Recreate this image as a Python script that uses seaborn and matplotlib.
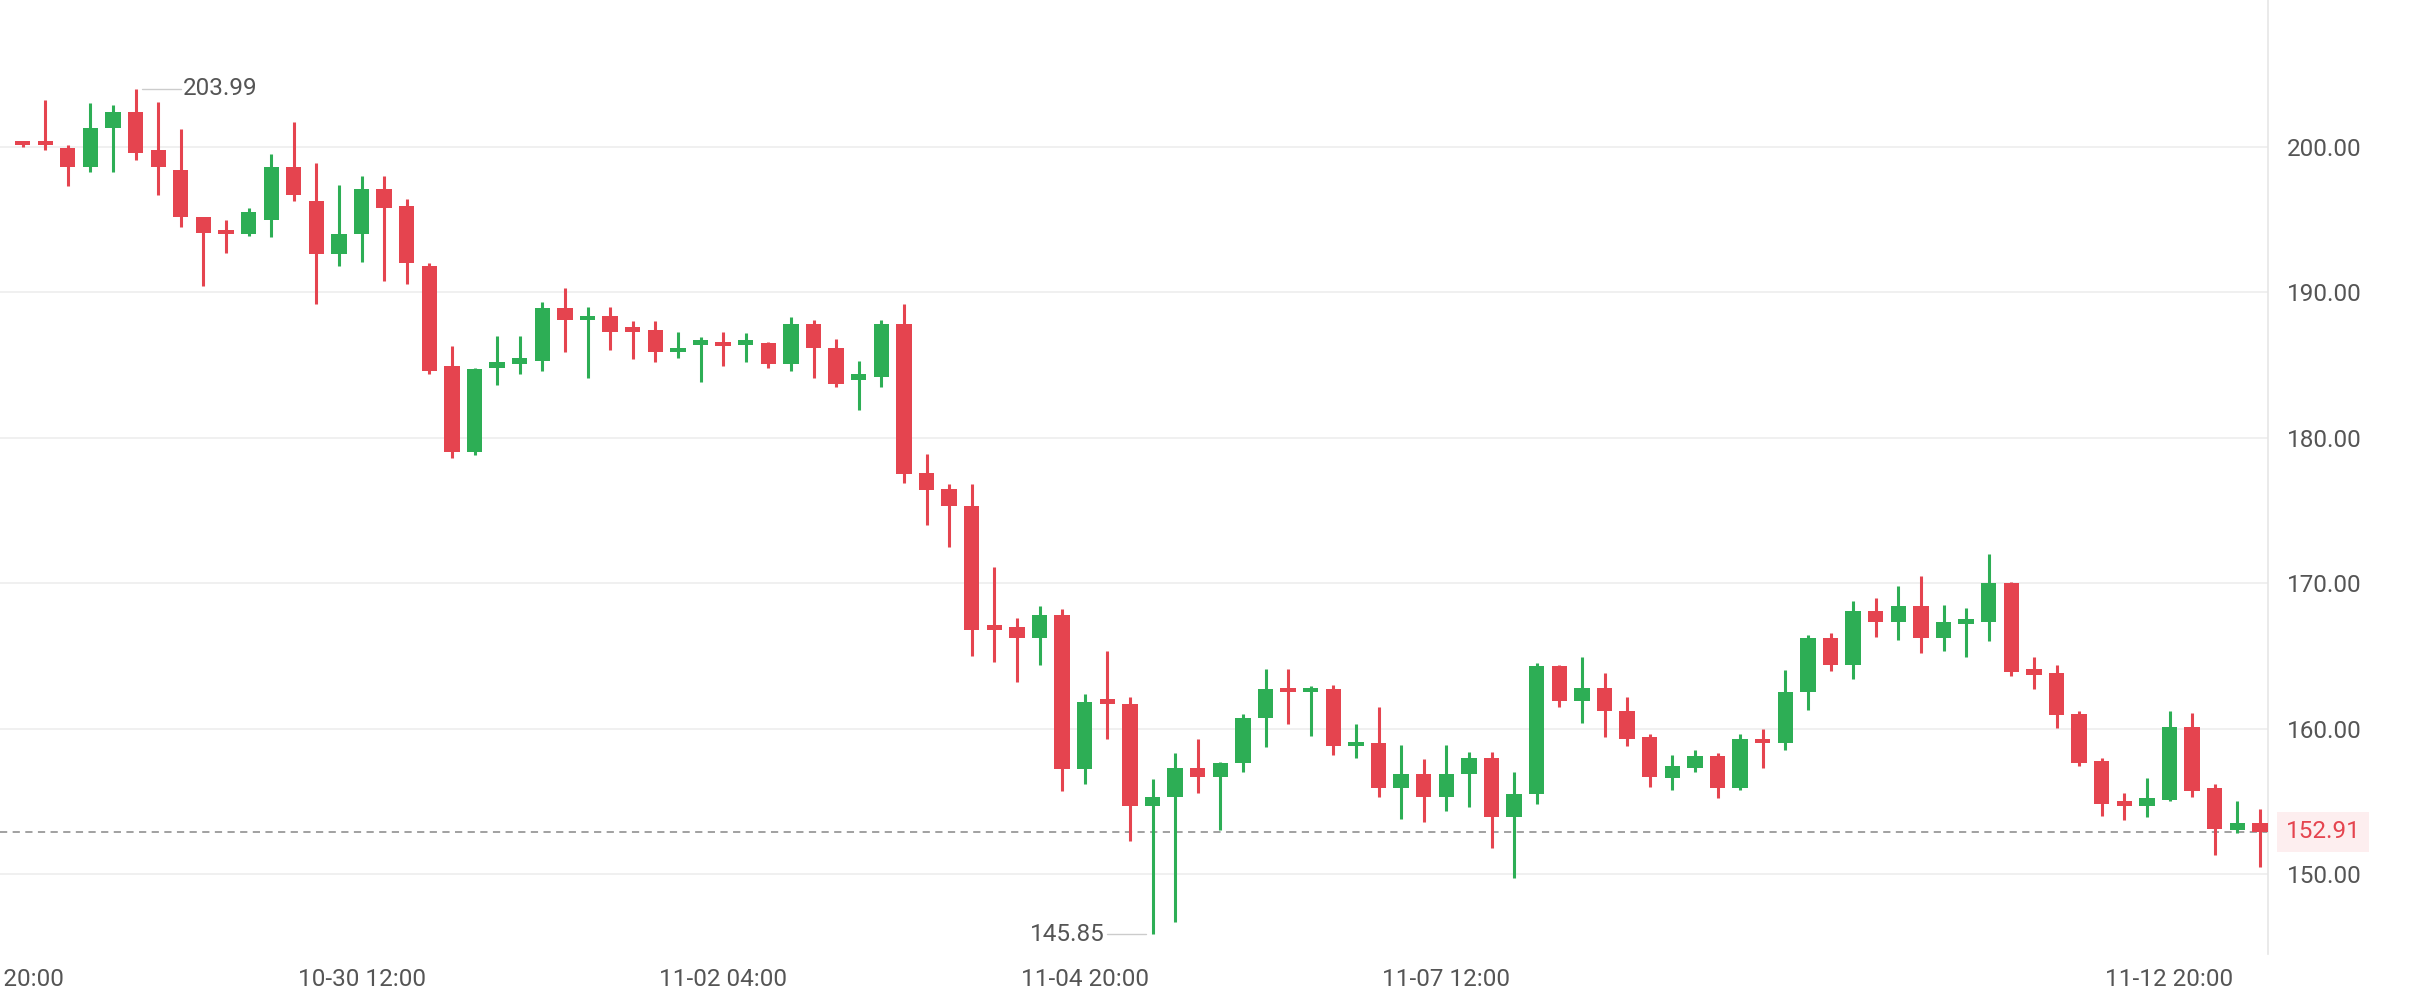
import numpy as np
import pandas as pd
import seaborn as sns
import matplotlib
matplotlib.use("Agg")
import matplotlib.pyplot as plt

opens = [200.2,200.2,199.9,198.6,201.3,202.4,199.8,198.4,195.2,194.3,194.0,195.0,198.6,196.3,192.6,194.0,197.1,195.9,191.8,184.9,
         179.0,184.8,185.1,185.3,188.9,188.1,188.4,187.4,187.4,185.9,186.4,186.5,186.4,186.5,185.1,187.8,186.2,184.0,184.2,187.8,
         177.6,176.5,175.3,166.9,167.0,166.2,167.8,157.2,161.8,161.7,154.7,155.3,157.3,156.7,157.6,160.7,162.7,162.5,162.7,158.8,
         159.0,155.9,156.9,155.3,156.9,158.0,153.9,155.5,164.3,161.9,162.8,161.2,159.4,156.6,157.3,158.1,155.9,159.3,159.0,162.5,
         166.2,164.4,168.1,167.3,168.4,166.2,167.2,167.3,170.0,164.1,163.8,161.0,157.8,154.9,154.7,155.1,160.1,155.9,153.05,153.5]
closes = [200.1,200.1,198.6,201.3,202.4,199.6,198.6,195.2,194.1,194.0,195.5,198.6,196.7,192.6,194.0,197.1,195.8,192.0,184.6,179.0,
          184.7,185.2,185.5,188.9,188.1,188.4,187.3,187.3,185.9,186.2,186.6,186.3,186.5,185.1,187.8,186.2,183.7,184.4,187.8,177.5,
          176.4,175.3,166.8,166.8,166.2,167.8,157.2,161.8,161.7,154.7,155.3,157.3,156.7,157.6,160.7,162.7,162.5,162.6,158.8,159.0,
          155.9,156.9,155.3,156.9,158.0,153.9,155.5,164.3,161.9,162.8,161.2,159.3,156.7,157.4,158.1,155.9,159.3,159.0,162.5,166.2,
          164.4,168.1,167.3,168.4,166.2,167.3,167.4,170.0,163.9,163.7,160.9,157.6,154.8,154.7,155.25,160.1,155.7,153.1,153.5,152.91]
highs = [200.3,203.2,200.1,203.0,202.9,203.99,203.1,201.2,195.2,195.0,195.8,199.5,201.7,198.9,197.4,198.0,198.0,196.4,192.0,186.3,
         184.8,187.0,187.0,189.3,190.3,189.0,189.0,188.0,188.0,187.3,186.9,187.3,187.2,186.6,188.3,188.1,186.8,185.3,188.1,189.2,
         178.9,176.8,176.8,171.1,167.6,168.4,168.2,162.4,165.3,162.2,156.5,158.3,159.3,157.7,161.0,164.1,164.1,162.9,163.0,160.3,
         161.5,158.9,157.9,158.9,158.4,158.4,157.0,164.5,164.4,164.9,163.8,162.2,159.6,158.2,158.5,158.3,159.6,160.0,164.0,166.4,
         166.6,168.8,169.0,169.8,170.5,168.5,168.3,172.0,170.1,164.9,164.4,161.2,158.0,155.6,156.6,161.2,161.1,156.2,155.0,154.5]
lows = [200.0,199.8,197.3,198.3,198.3,199.1,196.7,194.5,190.4,192.7,193.9,193.8,196.3,189.2,191.8,192.1,190.8,190.6,184.4,178.6,
        178.8,183.6,184.4,184.6,185.9,184.1,186.0,185.4,185.2,185.5,183.8,184.9,185.2,184.8,184.6,184.1,183.5,181.9,183.5,176.9,
        174.0,172.5,165.0,164.6,163.2,164.4,155.7,156.2,159.3,152.3,145.85,146.7,155.6,153.0,157.0,158.7,160.3,159.5,158.2,158.0,
        155.3,153.8,153.6,154.3,154.6,151.8,149.7,154.8,161.5,160.4,159.4,158.8,156.0,155.8,157.0,155.2,155.8,157.3,158.5,161.3,
        163.95,163.4,166.3,166.1,165.2,165.3,164.9,166.0,163.6,162.7,160.05,157.4,154.0,153.7,153.9,155.0,155.3,151.3,152.8,150.5]

tick_pos = [-1, 15, 31, 47, 63, 95]
tick_labels = ["10-28 20:00", "10-30 12:00", "11-02 04:00", "11-04 20:00", "11-07 12:00", "11-12 20:00"]
y_ticks = [150, 160, 170, 180, 190, 200]
last_price = 152.91

df = pd.DataFrame({"o": opens, "c": closes, "h": highs, "l": lows})
df["i"] = np.arange(len(df))
RED, GREEN = "#E5444F", "#2DAE55"
df["col"] = np.where(df["c"] >= df["o"], GREEN, RED)

sns.set_style("white")
plt.rcParams['font.family'] = ['Roboto', 'DejaVu Sans']
fig = plt.figure(figsize=(24.19, 10.08), dpi=100)
ax = fig.add_axes([0.0, 0.0536, 0.9375, 0.9464])

ax.vlines(df["i"], df["l"], df["h"], colors=df["col"], linewidth=2.2, zorder=3)
bottom = np.minimum(df["o"], df["c"])
height = np.maximum(np.abs(df["c"] - df["o"]), 0.3)
ax.bar(df["i"], height, bottom=bottom, width=0.68, color=df["col"], zorder=4, linewidth=0)

ax.set_xlim(0.2, 99.35)
ax.set_ylim(144.5, 210.1)
for y in y_ticks:
    ax.axhline(y, color="#EEEEEE", lw=1.2, zorder=0)
ax.axhline(last_price, color="#9A9A9A", lw=1.3, ls=(0, (4, 3)), zorder=2)

ax.yaxis.tick_right()
ax.set_yticks(y_ticks)
ax.set_yticklabels([f"{v:.2f}" for v in y_ticks], fontsize=17.5, color="#555555")
ax.tick_params(axis="y", length=0, pad=14)
ax.set_xticks(tick_pos)
ax.set_xticklabels(tick_labels, fontsize=17.5, color="#555555")
ax.tick_params(axis="x", length=0, pad=10)
for s in ["top", "left", "bottom"]:
    ax.spines[s].set_visible(False)
ax.spines["right"].set_color("#E6E6E6")
ax.spines["right"].set_linewidth(1.2)

ax.text(1.008, (last_price - 144.5) / (210.1 - 144.5), f"{last_price:.2f}", transform=ax.transAxes,
        ha="left", va="center", fontsize=17.5, color="#E5444F",
        bbox=dict(boxstyle="square,pad=0.35", fc="#FDEEEF", ec="none"))

imax = int(np.argmax(highs)); imin = int(np.argmin(lows))
ax.plot([imax + 0.3, imax + 2.0], [highs[imax], highs[imax]], color="#CCCCCC", lw=1)
ax.text(imax + 2.1, highs[imax], f"{highs[imax]:.2f}", ha="left", va="center", fontsize=17.5, color="#555555")
ax.plot([imin - 2.0, imin - 0.3], [lows[imin], lows[imin]], color="#CCCCCC", lw=1)
ax.text(imin - 2.1, lows[imin], f"{lows[imin]:.2f}", ha="right", va="center", fontsize=17.5, color="#555555")

fig.savefig("out.png", dpi=100, facecolor="white")
